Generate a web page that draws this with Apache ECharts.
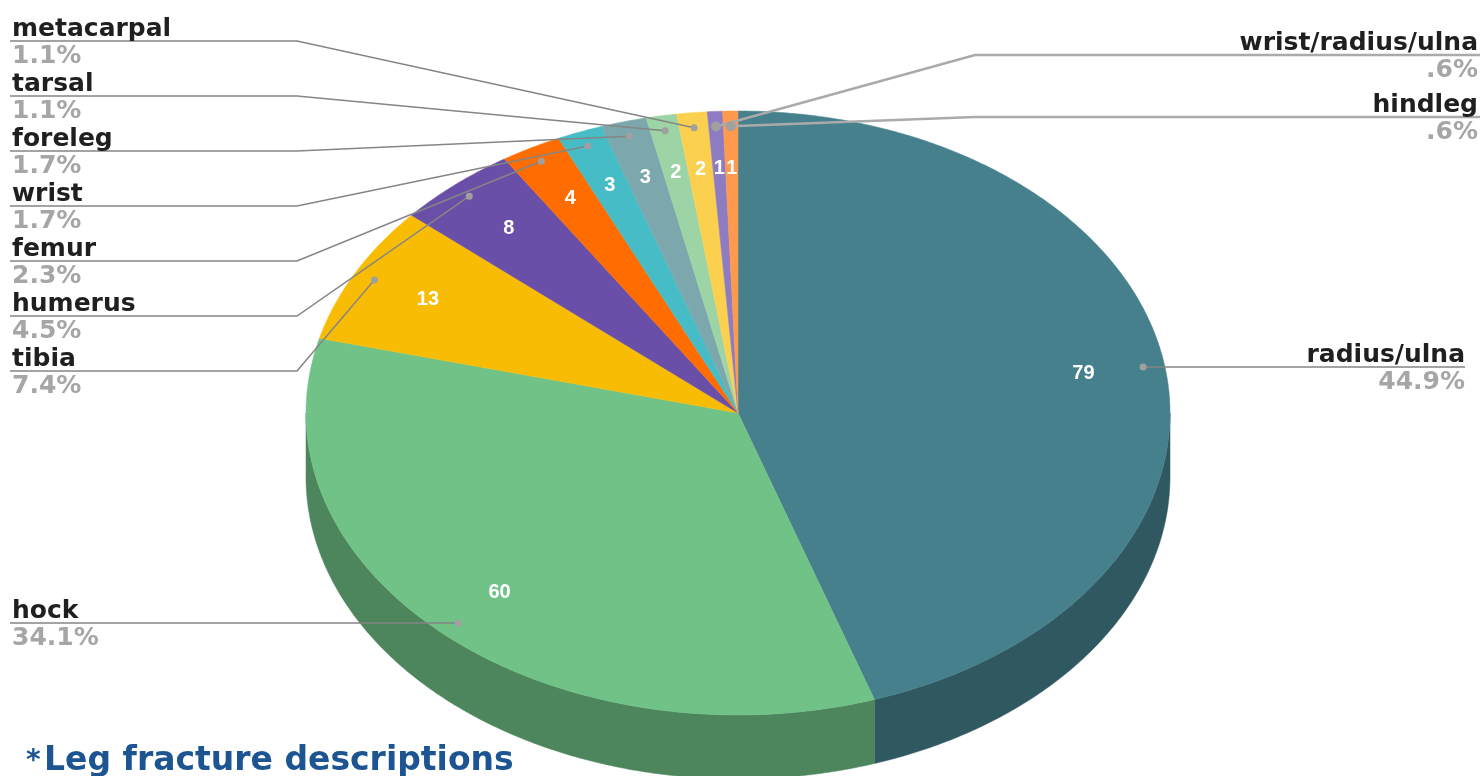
<!DOCTYPE html>
<html>
<head>
<meta charset="utf-8">
<script src="https://cdn.jsdelivr.net/npm/echarts@6/dist/echarts.min.js"></script>
<style>
  html, body { margin: 0; padding: 0; background: #fff; }
  #chart { width: 1483px; height: 776px; }
</style>
</head>
<body>
<div id="chart"></div>
<script>
var categories = ['radius/ulna', 'hock', 'tibia', 'humerus', 'femur', 'wrist', 'foreleg', 'tarsal', 'metacarpal', 'wrist/radius/ulna', 'hindleg'];
var counts = [79, 60, 13, 8, 4, 3, 3, 2, 2, 1, 1];
var colors = ['#46808c', '#70c287', '#f9bc05', '#6a4fa8', '#ff6d01', '#46bdc6', '#7ba7ad', '#9dd4a5', '#fcd04f', '#8e7cc3', '#ff994d'];

(function() {
  var chart = echarts.init(document.getElementById('chart'), null, { renderer: 'canvas' });
  var TAU = Math.PI * 2;
  var total = counts.reduce(function(s, v) { return s + v; }, 0);
  var starts = [];
  var acc = 0;
  counts.forEach(function(v) { starts.push(acc / total * TAU); acc += v; });

  // ellipse of the tilted pie
  var cx = 738, cy = 413, rx = 432, ry = 302, depth = 64;
  // label layout
  var rightStack = 2;
  var leftRow0 = 41, leftStep = 55, rightRow0 = 55, rightStep = 62;
  var labelFont = 'bold 25px "DejaVu Sans", Verdana, sans-serif';
  var titleColor = '#1c5592';

  function pt(a, r, dy) {
    return [cx + rx * r * Math.sin(a), cy - ry * r * Math.cos(a) + (dy || 0)];
  }
  function arc(a0, a1, dy) {
    var n = Math.max(2, Math.ceil((a1 - a0) / 0.01));
    var out = [];
    for (var k = 0; k <= n; k++) out.push(pt(a0 + (a1 - a0) * k / n, 1, dy));
    return out;
  }
  function darker(hex, f) {
    var c = echarts.color.parse(hex);
    return 'rgb(' + Math.round(c[0] * f) + ',' + Math.round(c[1] * f) + ',' + Math.round(c[2] * f) + ')';
  }
  function pctText(v) {
    return (v / total * 100).toFixed(1).replace(/^0/, '') + '%';
  }

  function renderSlice(params, api) {
    var i = params.dataIndex;
    var n = counts.length;
    var frac = counts[i] / total;
    var a0 = starts[i], a1 = a0 + frac * TAU, mid = (a0 + a1) / 2;
    var col = colors[i];
    var children = [];

    // front wall
    var s0 = Math.max(a0, Math.PI / 2), s1 = Math.min(a1, Math.PI * 1.5);
    if (s1 > s0) {
      var side = darker(col, 0.69);
      children.push({
        type: 'polygon',
        shape: { points: arc(s0, s1, 0).concat(arc(s0, s1, depth).reverse()) },
        style: { fill: side, stroke: side, lineWidth: 0.5 },
        z2: 1
      });
    }
    // top face
    children.push({
      type: 'polygon',
      shape: { points: [[cx, cy]].concat(arc(a0, a1, 0)) },
      style: { fill: col, stroke: col, lineWidth: 0.5 },
      z2: 2
    });
    // value inside
    var vp = pt(mid, 0.81);
    children.push({
      type: 'text', x: vp[0], y: vp[1], z2: 5,
      style: {
        text: String(api.value(0)), fill: '#fff',
        font: 'bold 20px "Liberation Sans", Arial, sans-serif',
        align: 'center', verticalAlign: 'middle'
      }
    });

    // leader line + outside label
    var anchor = pt(mid, 0.95);
    var big = frac > 0.2;
    var right = big ? Math.sin(mid) > 0 : i >= n - rightStack;
    var lineY, pts, textX, align;
    var lineColor = '#858585', lw = 1.5, dotR = 3.5;
    if (big) {
      lineY = anchor[1];
      pts = right ? [anchor, [1465, lineY]] : [anchor, [10, lineY]];
      textX = right ? 1465 : 12;
    } else if (right) {
      lineY = rightRow0 + (i - (n - rightStack)) * rightStep;
      pts = [anchor, [975, lineY], [1480, lineY]];
      textX = 1478;
      lineColor = '#aaaaaa'; lw = 2.5; dotR = 5;
    } else {
      lineY = leftRow0 + ((n - rightStack - 1) - i) * leftStep;
      pts = [anchor, [297, lineY], [10, lineY]];
      textX = 12;
    }
    align = right ? 'right' : 'left';
    children.push({
      type: 'polyline', z2: 8,
      shape: { points: pts },
      style: { stroke: lineColor, lineWidth: lw, fill: null }
    });
    children.push({
      type: 'circle', z2: 9,
      shape: { cx: anchor[0], cy: anchor[1], r: dotR },
      style: { fill: '#a0a0a0' }
    });
    children.push({
      type: 'text', x: textX, y: lineY + 1, z2: 9,
      style: { text: categories[i], fill: '#1f1f1f', font: labelFont, align: align, verticalAlign: 'bottom' }
    });
    children.push({
      type: 'text', x: textX, y: lineY + 3, z2: 9,
      style: { text: pctText(counts[i]), fill: '#a6a6a6', font: labelFont, align: align, verticalAlign: 'top' }
    });

    return { type: 'group', children: children };
  }

  chart.setOption({
    animation: false,
    title: [{
      text: '*',
      left: 26,
      top: 748,
      padding: 0,
      textStyle: { fontSize: 28, fontWeight: 'bold', color: titleColor, fontFamily: 'DejaVu Sans' }
    }, {
      text: 'Leg fracture descriptions',
      left: 44,
      top: 745,
      padding: 0,
      textStyle: { fontSize: 33, fontWeight: 'bold', color: titleColor, fontFamily: 'DejaVu Sans' }
    }],
    series: [{
      type: 'custom',
      coordinateSystem: 'none',
      renderItem: renderSlice,
      data: counts.map(function(v, i) { return { name: categories[i], value: v }; })
    }]
  });

  window.addEventListener('resize', function() { chart.resize(); });
})();
</script>
</body>
</html>
